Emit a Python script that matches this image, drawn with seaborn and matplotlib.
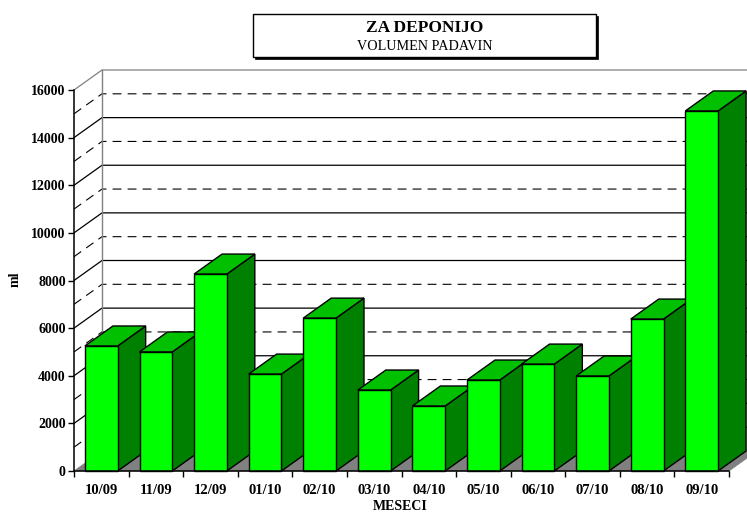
import matplotlib
matplotlib.use('Agg')
import matplotlib.pyplot as plt
from matplotlib.patches import Polygon, Rectangle
import seaborn as sns

months = ['10/09', '11/09', '12/09', '01/10', '02/10', '03/10', '04/10', '05/10', '06/10', '07/10', '08/10', '09/10']
volume = [5250, 5000, 8270, 4070, 6420, 3400, 2730, 3820, 4490, 3990, 6380, 15120]
major_ticks = [0, 2000, 4000, 6000, 8000, 10000, 12000, 14000, 16000]
minor_lines = [1000, 3000, 5000, 7000, 9000, 11000, 13000, 15000]

sns.set_style('white')
plt.rcParams['font.family'] = ['Liberation Serif', 'DejaVu Serif']
plt.rcParams['text.color'] = 'black'
plt.rcParams['axes.labelcolor'] = 'black'
plt.rcParams['xtick.color'] = 'black'
plt.rcParams['ytick.color'] = 'black'

W, H = 747, 514
fig = plt.figure(figsize=(W / 100, H / 100), dpi=100)
ax = fig.add_axes([74 / W, (H - 471) / H, 655 / W, 381 / H])

# barplot gives the front faces, side and top faces are added below
sns.barplot(x=months, y=volume, color='#00ff00', saturation=1, width=0.6,
            edgecolor='black', linewidth=1, ax=ax)
ax.set_xlim(-0.5, 11.5)
ax.set_ylim(0, 16000)
ax.patch.set_visible(False)

# depth of the fake 3D box, in data units
dx = 28 / (655 / 12)
dy = 20 / 381 * 16000
x0, x1 = -0.5, 11.5
dash = (0, (8, 5.5))

# floor
ax.add_patch(Polygon([(x0, 0), (x1, 0), (x1 + dx, dy), (x0 + dx, dy)], closed=True,
                     fc='#808080', ec='#808080', lw=0.5, zorder=0.5, clip_on=False))

# back wall and side wall lines
for v in major_ticks[1:]:
    c = '#808080' if v == 16000 else 'black'
    ax.plot([x0, x0 + dx, x1 + dx], [v, v + dy, v + dy], color=c, lw=0.9, zorder=0.6, clip_on=False)
for v in minor_lines:
    ax.plot([x0, x0 + dx, x1 + dx], [v, v + dy, v + dy], color='black', lw=0.8,
            ls=dash, zorder=0.6, clip_on=False)
ax.plot([x0 + dx, x0 + dx], [dy, 16000 + dy], color='#808080', lw=1, zorder=0.7, clip_on=False)

# side and top faces, later bars sit over earlier ones
for i, bar in enumerate(ax.patches[:len(months)]):
    left = bar.get_x()
    right = left + bar.get_width()
    top = bar.get_height()
    z = 3 + i
    ax.add_patch(Polygon([(right, 0), (right + dx, dy), (right + dx, top + dy), (right, top)], closed=True,
                         fc='#008000', ec='black', lw=1, zorder=z, clip_on=False))
    ax.add_patch(Polygon([(left, top), (left + dx, top + dy), (right + dx, top + dy), (right, top)], closed=True,
                         fc='#00c000', ec='black', lw=1, zorder=z, clip_on=False))
    bar.set_zorder(z + 0.5)
    bar.set_clip_on(False)

for s in ['top', 'right']:
    ax.spines[s].set_visible(False)
for s in ['left', 'bottom']:
    ax.spines[s].set_color('black')
    ax.spines[s].set_linewidth(1.1)
    ax.spines[s].set_zorder(30)

ax.set_yticks(major_ticks)
ax.set_yticklabels(major_ticks, fontsize=10, fontweight='bold')
ax.tick_params(axis='y', length=4.5, width=1, color='black', left=True, pad=1.5)
ax.set_xticks(range(len(months)))
ax.set_xticklabels(months, fontsize=10.5, fontweight='bold')
ax.set_xticks([i - 0.5 for i in range(len(months) + 1)], minor=True)
ax.tick_params(axis='x', which='major', length=0, pad=9)
ax.tick_params(axis='x', which='minor', length=4, width=1, color='black', bottom=True)
ax.set_xlabel('MESECI', fontsize=10, fontweight='bold', labelpad=3)
ax.set_ylabel('ml', fontsize=10, fontweight='bold', labelpad=9)
ax.yaxis.set_label_coords((15 - 74) / 655, (471 - 279) / 381)
ax.xaxis.set_label_coords((400 - 74) / 655, (471 - 507) / 381)
ax.xaxis.label.set_verticalalignment('center')
ax.yaxis.label.set_verticalalignment('center')

# title box with drop shadow
fig.add_artist(Rectangle((255 / W, (H - 59) / H), 343 / W, 43 / H, transform=fig.transFigure,
                         fc='black', ec='black', lw=0.5))
fig.add_artist(Rectangle((253 / W, (H - 57) / H), 343 / W, 43 / H, transform=fig.transFigure,
                         fc='white', ec='black', lw=1))
fig.text(424.5 / W, (H - 28) / H, 'ZA DEPONIJO', ha='center', va='center', fontsize=12.5, fontweight='bold')
fig.text(424.5 / W, (H - 47) / H, 'VOLUMEN PADAVIN', ha='center', va='center', fontsize=10.2)

fig.savefig('out.png', dpi=100)
